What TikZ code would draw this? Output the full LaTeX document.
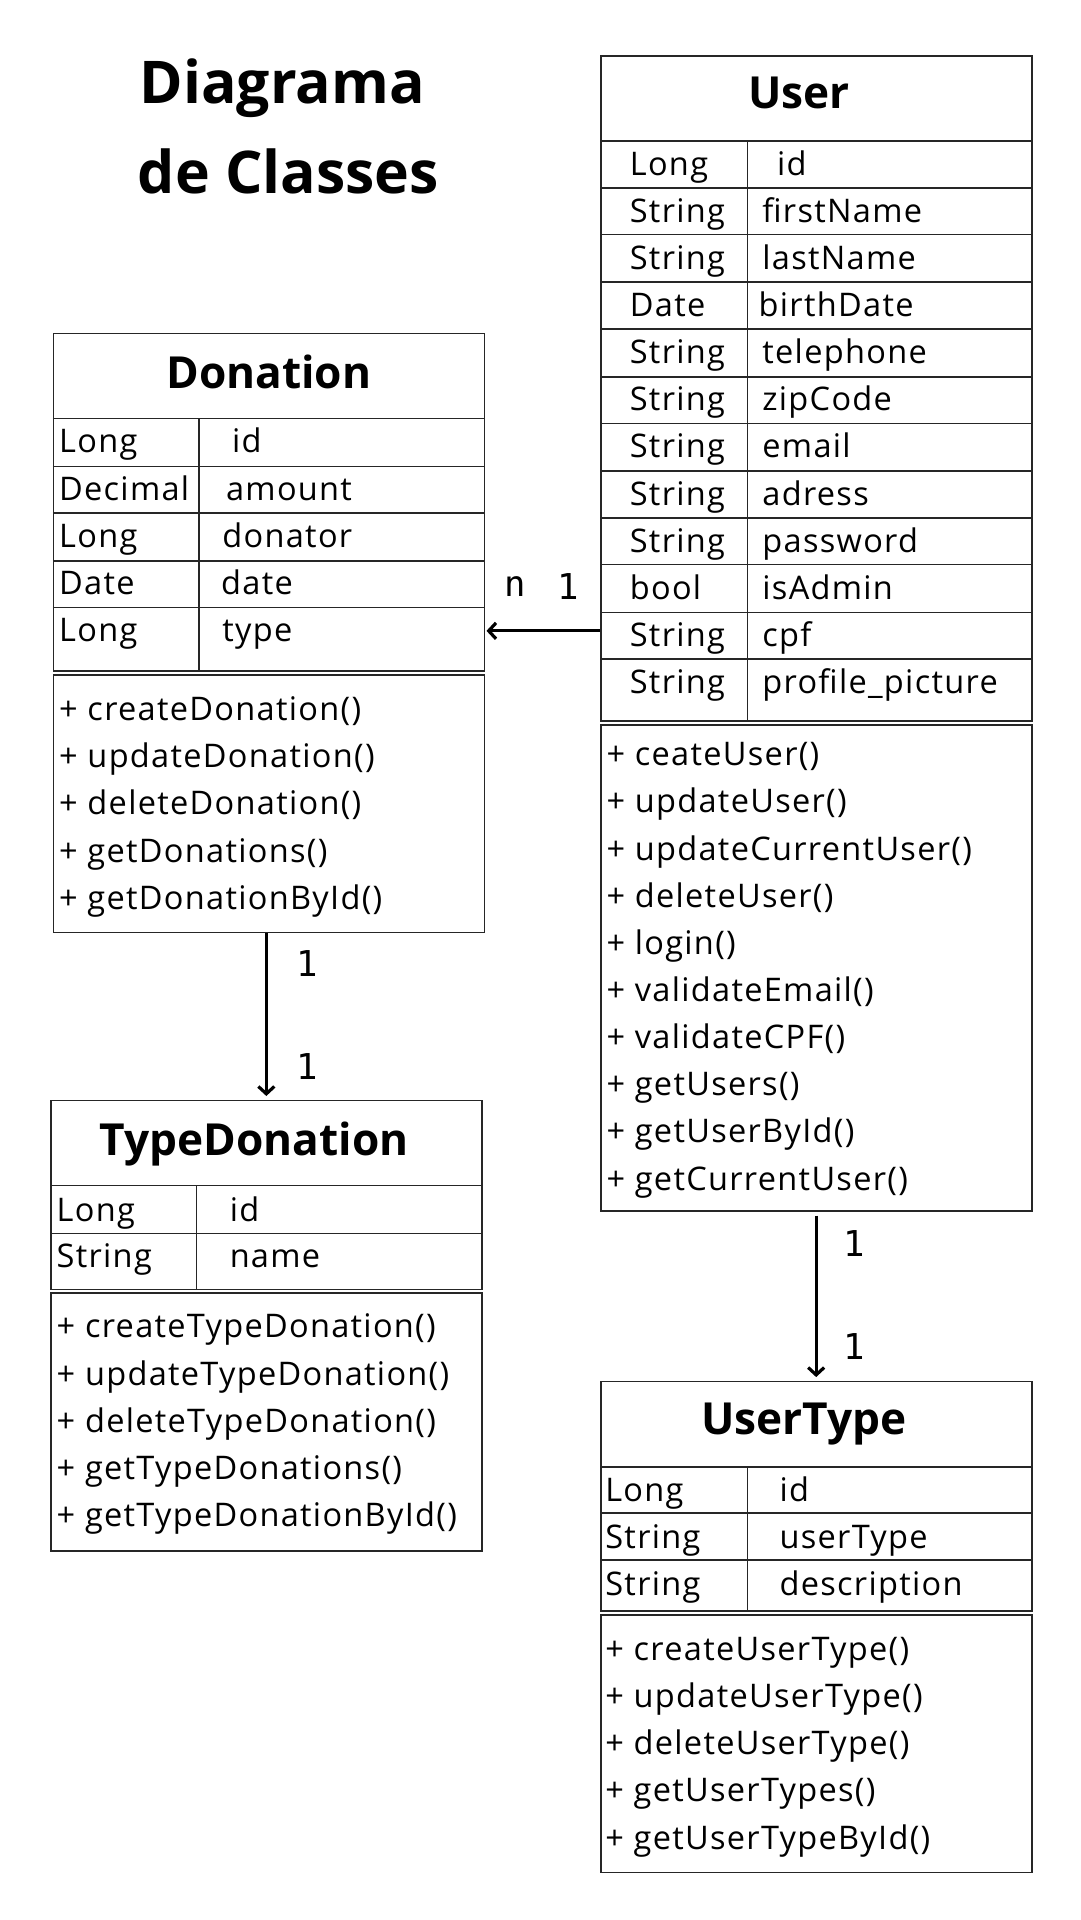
\documentclass[tikz,border=0pt]{standalone}
\usepackage{fontspec}
\setmainfont{Open Sans}
\newfontfamily\bodyfont[LetterSpace=4]{Open Sans}
\newfontfamily\cardfont{DejaVu Sans Mono}
\usetikzlibrary{arrows.meta,calc}
\tikzset{
  box/.style={draw=black!85, line width=1.4pt, inner sep=0pt, anchor=north west},
  sep/.style={draw=black!85, line width=1.4pt},
  hdr/.style={font=\fontsize{36}{40}\selectfont\bfseries, inner sep=0pt},
  ttl/.style={font=\fontsize{48}{52}\selectfont\bfseries, inner sep=0pt},
  txt/.style={font=\bodyfont\fontsize{26.5}{30}\selectfont, anchor=base west, inner sep=0pt},
  card/.style={font=\cardfont\fontsize{29}{32}\selectfont, inner sep=0pt},
  arr/.style={line width=2.6pt, -{Straight Barb[length=6pt,width=13pt,line width=2.6pt]}}
}
\begin{document}
\begin{tikzpicture}[x=1pt,y=-1pt]
\useasboundingbox[fill=white] (0,0) rectangle (880,1564.4);

% ---------- Title
\node[ttl] (t1) at (230,72) {Diagrama};
\node[ttl] (t2) at (235,140) {de Classes};

% ---------- User
\node[box, minimum width=351pt, minimum height=542pt] (user) at (489,45) {};
\node[hdr] (userh) at (651,76) {User};
\draw[sep] (489,115) -- (840,115);
\foreach \y in {153,191,230,268,307,345,384,422,460,499,537} \draw[sep] (489,\y) -- (840,\y);
\draw[sep] (609,115) -- (609,587);
\foreach \t/\n/\nx [count=\i] in {Long/id/633, String/firstName/621, String/lastName/621, Date/birthDate/618,
  String/telephone/621, String/zipCode/621, String/email/621, String/adress/621, String/password/621,
  bool/isAdmin/621, String/cpf/621, String/profile\_picture/621} {
  \node[txt] (uat\i) at (513,{115+38.36*(\i-1)+28}) {\t};
  \node[txt] (uan\i) at (\nx,{115+38.36*(\i-1)+28}) {\n};
}
\node[box, minimum width=351pt, minimum height=396pt] (userm) at (489,590) {};
\foreach \m [count=\i] in {ceateUser(), updateUser(), updateCurrentUser(), deleteUser(), login(),
  validateEmail(), validateCPF(), getUsers(), getUserById(), getCurrentUser()} {
  \node[txt] (um\i) at (494,{615+38.4*(\i-1)+9}) {+ \m};
}

% ---------- Donation
\node[box, minimum width=351pt, minimum height=275pt] (don) at (43,271) {};
\node[hdr] (donh) at (219,303) {Donation};
\foreach \y in {341,380,418,457,495} \draw[sep] (43,\y) -- (394,\y);
\draw[sep] (162,341) -- (162,546);
\foreach \t/\n/\nx [count=\i] in {Long/id/189, Decimal/amount/184, Long/donator/181, Date/date/180, Long/type/181} {
  \node[txt] (dat\i) at (48,{341+38.5*(\i-1)+28}) {\t};
  \node[txt] (dan\i) at (\nx,{341+38.5*(\i-1)+28}) {\n};
}
\node[box, minimum width=351pt, minimum height=210pt] (donm) at (43,549) {};
\foreach \m [count=\i] in {createDonation(), updateDonation(), deleteDonation(), getDonations(), getDonationById()} {
  \node[txt] (dm\i) at (48,{578+38.5*(\i-1)+9}) {+ \m};
}

% ---------- TypeDonation
\node[box, minimum width=351pt, minimum height=154pt] (tdon) at (41,896) {};
\node[hdr] (tdonh) at (207,932) {TypeDonation};
\foreach \y in {966,1005} \draw[sep] (41,\y) -- (392,\y);
\draw[sep] (160,966) -- (160,1050);
\node[txt] (tat1) at (46,{986+9}) {Long};
\node[txt] (tan1) at (187,{986+9}) {id};
\node[txt] (tat2) at (46,{1024+9}) {String};
\node[txt] (tan2) at (187,{1024+9}) {name};
\node[box, minimum width=351pt, minimum height=210pt] (tdonm) at (41,1053) {};
\foreach \m [count=\i] in {createTypeDonation(), updateTypeDonation(), deleteTypeDonation(), getTypeDonations(), getTypeDonationById()} {
  \node[txt] (tm\i) at (46,{1081+38.5*(\i-1)+9}) {+ \m};
}

% ---------- UserType
\node[box, minimum width=351pt, minimum height=187pt] (ut) at (489,1125) {};
\node[hdr] (uth) at (655,1160) {UserType};
\foreach \y in {1195,1233,1271} \draw[sep] (489,\y) -- (840,\y);
\draw[sep] (609,1195) -- (609,1312);
\foreach \t/\n [count=\i] in {Long/id, String/userType, String/description} {
  \node[txt] (utat\i) at (493,{1214+38.4*(\i-1)+9}) {\t};
  \node[txt] (utan\i) at (635,{1214+38.4*(\i-1)+9}) {\n};
}
\node[box, minimum width=351pt, minimum height=210pt] (utm) at (489,1315) {};
\foreach \m [count=\i] in {createUserType(), updateUserType(), deleteUserType(), getUserTypes(), getUserTypeById()} {
  \node[txt] (utm\i) at (493,{1344+38.4*(\i-1)+9}) {+ \m};
}

% ---------- Connectors
\draw[arr, shorten >=1pt] (user.west |- 0,514) -- (don.east |- 0,514);
\draw[arr, shorten >=3pt] (donm.south -| 217,0) -- (tdon.north -| 217,0);
\draw[arr, shorten >=3pt, shorten <=3pt] (userm.south -| 665,0) -- (ut.north -| 665,0);

% ---------- Multiplicities
\node[card] (c1) at (420,478) {n};
\node[card] (c2) at (463,478) {1};
\node[card] (c3) at (250,785) {1};
\node[card] (c4) at (250,869) {1};
\node[card] (c5) at (696,1013) {1};
\node[card] (c6) at (696,1097) {1};
\end{tikzpicture}
\end{document}
